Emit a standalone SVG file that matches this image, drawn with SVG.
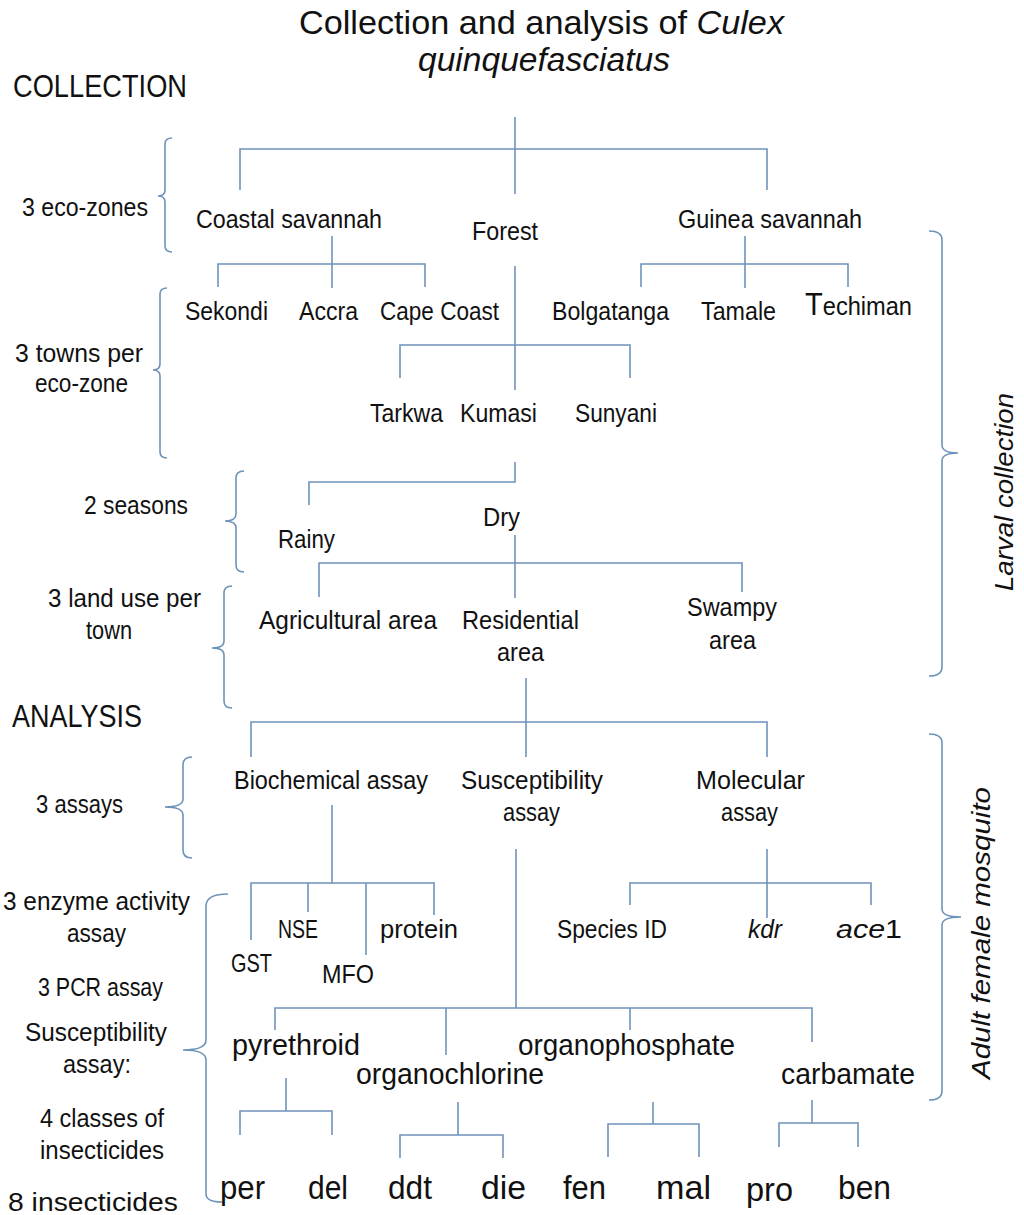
<svg xmlns="http://www.w3.org/2000/svg" width="1024" height="1215" viewBox="0 0 1024 1215">
<style>
text{font-family:"Liberation Sans Narrow","Liberation Sans",Arial,sans-serif;fill:#111;font-size:26px}
.t{font-family:"Liberation Sans",Arial,sans-serif;font-size:33px}
.h{font-size:31px}
.m{font-size:30px}
.b{font-size:34px}
.i{font-style:italic}
.c line,.c path{stroke:#6e93ba;stroke-width:1.6;fill:none}
</style>
<rect width="1024" height="1215" fill="#fff"/>
<g id="title">
<text class="t" x="299" y="34" textLength="485" lengthAdjust="spacingAndGlyphs">Collection and analysis of <tspan class="i">Culex</tspan></text>
<text class="t i" x="418" y="71" textLength="252" lengthAdjust="spacingAndGlyphs">quinquefasciatus</text>
</g>
<g id="headers">
<text class="h" x="13" y="97" textLength="174" lengthAdjust="spacingAndGlyphs">COLLECTION</text>
<text class="h" x="12" y="727" textLength="130" lengthAdjust="spacingAndGlyphs">ANALYSIS</text>
</g>
<g id="side-labels">
<text x="22" y="216" textLength="126" lengthAdjust="spacingAndGlyphs">3 eco-zones</text>
<text x="15" y="362" textLength="128" lengthAdjust="spacingAndGlyphs">3 towns per</text>
<text x="35" y="392" textLength="93" lengthAdjust="spacingAndGlyphs">eco-zone</text>
<text x="84" y="514" textLength="104" lengthAdjust="spacingAndGlyphs">2 seasons</text>
<text x="48" y="607" textLength="153" lengthAdjust="spacingAndGlyphs">3 land use per</text>
<text x="86" y="639" textLength="46" lengthAdjust="spacingAndGlyphs">town</text>
<text x="36" y="813" textLength="87" lengthAdjust="spacingAndGlyphs">3 assays</text>
<text x="3" y="910" textLength="187" lengthAdjust="spacingAndGlyphs">3 enzyme activity</text>
<text x="67" y="942" textLength="59" lengthAdjust="spacingAndGlyphs">assay</text>
<text x="38" y="996" textLength="125" lengthAdjust="spacingAndGlyphs">3 PCR assay</text>
<text x="25" y="1041" textLength="142" lengthAdjust="spacingAndGlyphs">Susceptibility</text>
<text x="63" y="1073" textLength="68" lengthAdjust="spacingAndGlyphs">assay:</text>
<text x="40" y="1127" textLength="124" lengthAdjust="spacingAndGlyphs">4 classes of</text>
<text x="40" y="1159" textLength="124" lengthAdjust="spacingAndGlyphs">insecticides</text>
<text x="8" y="1211" textLength="170" lengthAdjust="spacingAndGlyphs">8 insecticides</text>
<text class="i" transform="translate(1013,492) rotate(-90)" text-anchor="middle" font-size="29" textLength="198" lengthAdjust="spacingAndGlyphs">Larval collection</text>
<text class="i" transform="translate(990,933) rotate(-90)" text-anchor="middle" font-size="30" textLength="292" lengthAdjust="spacingAndGlyphs">Adult female mosquito</text>
</g>
<g id="zones">
<g id="n-coastal"><text x="196" y="228" textLength="186" lengthAdjust="spacingAndGlyphs">Coastal savannah</text></g>
<g id="n-forest"><text x="472" y="240" textLength="66" lengthAdjust="spacingAndGlyphs">Forest</text></g>
<g id="n-guinea"><text x="678" y="228" textLength="184" lengthAdjust="spacingAndGlyphs">Guinea savannah</text></g>
</g>
<g id="towns">
<g id="n-sekondi"><text x="185" y="320" textLength="83" lengthAdjust="spacingAndGlyphs">Sekondi</text></g>
<g id="n-accra"><text x="299" y="320" textLength="59" lengthAdjust="spacingAndGlyphs">Accra</text></g>
<g id="n-capecoast"><text x="380" y="320" textLength="119" lengthAdjust="spacingAndGlyphs">Cape Coast</text></g>
<g id="n-bolgatanga"><text x="552" y="320" textLength="117" lengthAdjust="spacingAndGlyphs">Bolgatanga</text></g>
<g id="n-tamale"><text x="701" y="320" textLength="75" lengthAdjust="spacingAndGlyphs">Tamale</text></g>
<g id="n-techiman"><text x="805" y="315" textLength="107" lengthAdjust="spacingAndGlyphs"><tspan font-size="32">T</tspan>echiman</text></g>
<g id="n-tarkwa"><text x="370" y="422" textLength="73" lengthAdjust="spacingAndGlyphs">Tarkwa</text></g>
<g id="n-kumasi"><text x="460" y="422" textLength="77" lengthAdjust="spacingAndGlyphs">Kumasi</text></g>
<g id="n-sunyani"><text x="575" y="422" textLength="82" lengthAdjust="spacingAndGlyphs">Sunyani</text></g>
</g>
<g id="seasons">
<g id="n-rainy"><text x="278" y="548" textLength="57" lengthAdjust="spacingAndGlyphs">Rainy</text></g>
<g id="n-dry"><text x="483" y="526" textLength="37" lengthAdjust="spacingAndGlyphs">Dry</text></g>
</g>
<g id="landuse">
<g id="n-agri"><text x="259" y="629" textLength="178" lengthAdjust="spacingAndGlyphs">Agricultural area</text></g>
<g id="n-resid"><text x="462" y="629" textLength="117" lengthAdjust="spacingAndGlyphs">Residential</text><text x="497" y="661" textLength="47" lengthAdjust="spacingAndGlyphs">area</text></g>
<g id="n-swampy"><text x="687" y="616" textLength="90" lengthAdjust="spacingAndGlyphs">Swampy</text><text x="709" y="649" textLength="47" lengthAdjust="spacingAndGlyphs">area</text></g>
</g>
<g id="assays">
<g id="n-biochem"><text x="234" y="789" textLength="194" lengthAdjust="spacingAndGlyphs">Biochemical assay</text></g>
<g id="n-suscept"><text x="461" y="789" textLength="142" lengthAdjust="spacingAndGlyphs">Susceptibility</text><text x="503" y="821" textLength="57" lengthAdjust="spacingAndGlyphs">assay</text></g>
<g id="n-molec"><text x="696" y="789" textLength="109" lengthAdjust="spacingAndGlyphs">Molecular</text><text x="721" y="821" textLength="57" lengthAdjust="spacingAndGlyphs">assay</text></g>
</g>
<g id="tests">
<g id="n-nse"><text x="278" y="938" textLength="40" lengthAdjust="spacingAndGlyphs">NSE</text></g>
<g id="n-protein"><text x="380" y="938" textLength="78" lengthAdjust="spacingAndGlyphs">protein</text></g>
<g id="n-gst"><text x="231" y="972" textLength="41" lengthAdjust="spacingAndGlyphs">GST</text></g>
<g id="n-mfo"><text x="322" y="983" textLength="52" lengthAdjust="spacingAndGlyphs">MFO</text></g>
<g id="n-species"><text x="557" y="938" textLength="110" lengthAdjust="spacingAndGlyphs">Species ID</text></g>
<g id="n-kdr"><text class="i" x="748" y="938" textLength="34" lengthAdjust="spacingAndGlyphs">kdr</text></g>
<g id="n-ace1"><text x="836" y="938" textLength="66" lengthAdjust="spacingAndGlyphs"><tspan class="i">ace</tspan>1</text></g>
</g>
<g id="classes">
<g id="n-pyr"><text class="m" x="232" y="1055" textLength="128" lengthAdjust="spacingAndGlyphs">pyrethroid</text></g>
<g id="n-ochl"><text class="m" x="356" y="1084" textLength="188" lengthAdjust="spacingAndGlyphs">organochlorine</text></g>
<g id="n-ophos"><text class="m" x="518" y="1055" textLength="217" lengthAdjust="spacingAndGlyphs">organophosphate</text></g>
<g id="n-carb"><text class="m" x="781" y="1084" textLength="134" lengthAdjust="spacingAndGlyphs">carbamate</text></g>
</g>
<g id="insecticides">
<g id="n-per"><text class="b" x="220" y="1199" textLength="45" lengthAdjust="spacingAndGlyphs">per</text></g>
<g id="n-del"><text class="b" x="308" y="1199" textLength="40" lengthAdjust="spacingAndGlyphs">del</text></g>
<g id="n-ddt"><text class="b" x="388" y="1199" textLength="44" lengthAdjust="spacingAndGlyphs">ddt</text></g>
<g id="n-die"><text class="b" x="481" y="1199" textLength="45" lengthAdjust="spacingAndGlyphs">die</text></g>
<g id="n-fen"><text class="b" x="563" y="1199" textLength="43" lengthAdjust="spacingAndGlyphs">fen</text></g>
<g id="n-mal"><text class="b" x="656" y="1199" textLength="55" lengthAdjust="spacingAndGlyphs">mal</text></g>
<g id="n-pro"><text class="b" x="746" y="1201" textLength="47" lengthAdjust="spacingAndGlyphs">pro</text></g>
<g id="n-ben"><text class="b" x="838" y="1199" textLength="53" lengthAdjust="spacingAndGlyphs">ben</text></g>
</g>
<g id="connectors" class="c">
<line x1="515" y1="117" x2="515" y2="194"/>
<path d="M240 190V149H767V190"/>
<line x1="332" y1="236" x2="332" y2="288"/>
<path d="M218 287V264H425V287"/>
<line x1="745" y1="236" x2="745" y2="288"/>
<path d="M641 287V264H848V287"/>
<line x1="515" y1="266" x2="515" y2="390"/>
<path d="M400 378V345H630V378"/>
<path d="M309 505V482H515V462"/>
<line x1="515" y1="535" x2="515" y2="598"/>
<path d="M319 597V563H742V592"/>
<line x1="526" y1="678" x2="526" y2="757"/>
<path d="M251 757V722H767V757"/>
<line x1="332" y1="805" x2="332" y2="883"/>
<path d="M251 940V883H434V915"/>
<line x1="308" y1="883" x2="308" y2="912"/>
<line x1="366" y1="883" x2="366" y2="955"/>
<line x1="767" y1="849" x2="767" y2="918"/>
<path d="M630 905V883H871V905"/>
<line x1="516" y1="849" x2="516" y2="1008"/>
<path d="M275 1030V1008H812V1042"/>
<line x1="446" y1="1008" x2="446" y2="1055"/>
<line x1="630" y1="1008" x2="630" y2="1030"/>
<line x1="286" y1="1078" x2="286" y2="1111"/>
<path d="M240 1135V1111H332V1135"/>
<line x1="458" y1="1102" x2="458" y2="1135"/>
<path d="M400 1158V1135H503V1158"/>
<line x1="653" y1="1102" x2="653" y2="1124"/>
<path d="M608 1157V1124H699V1157"/>
<line x1="812" y1="1100" x2="812" y2="1123"/>
<path d="M779 1147V1123H858V1147"/>
</g>
<g id="braces" class="c">
<path d="M172 138Q165 138 165 144V190Q165 196 158 196Q165 196 165 202V246Q165 252 172 252"/>
<path d="M167 288Q160 288 160 294V364Q160 370 153 370Q160 370 160 376V452Q160 458 167 458"/>
<path d="M244 471Q236 471 236 478V514Q236 521 225 521Q236 521 236 528V565Q236 572 244 572"/>
<path d="M232 586Q224 586 224 593V641Q224 648 212 648Q224 648 224 655V701Q224 708 232 708"/>
<path d="M192 757Q183 757 183 765V799Q183 807 165 807Q183 807 183 815V850Q183 858 192 858"/>
<path d="M228 894Q206 894 206 906V1040Q206 1050 183 1050Q206 1050 206 1060V1194Q206 1202 222 1202"/>
<path d="M929 231Q942 231 942 240V445Q942 453 958 453Q942 453 942 461V667Q942 676 929 676"/>
<path d="M929 734Q942 734 942 743V909Q942 917 961 917Q942 917 942 925V1091Q942 1100 929 1100"/>
</g>
</svg>
